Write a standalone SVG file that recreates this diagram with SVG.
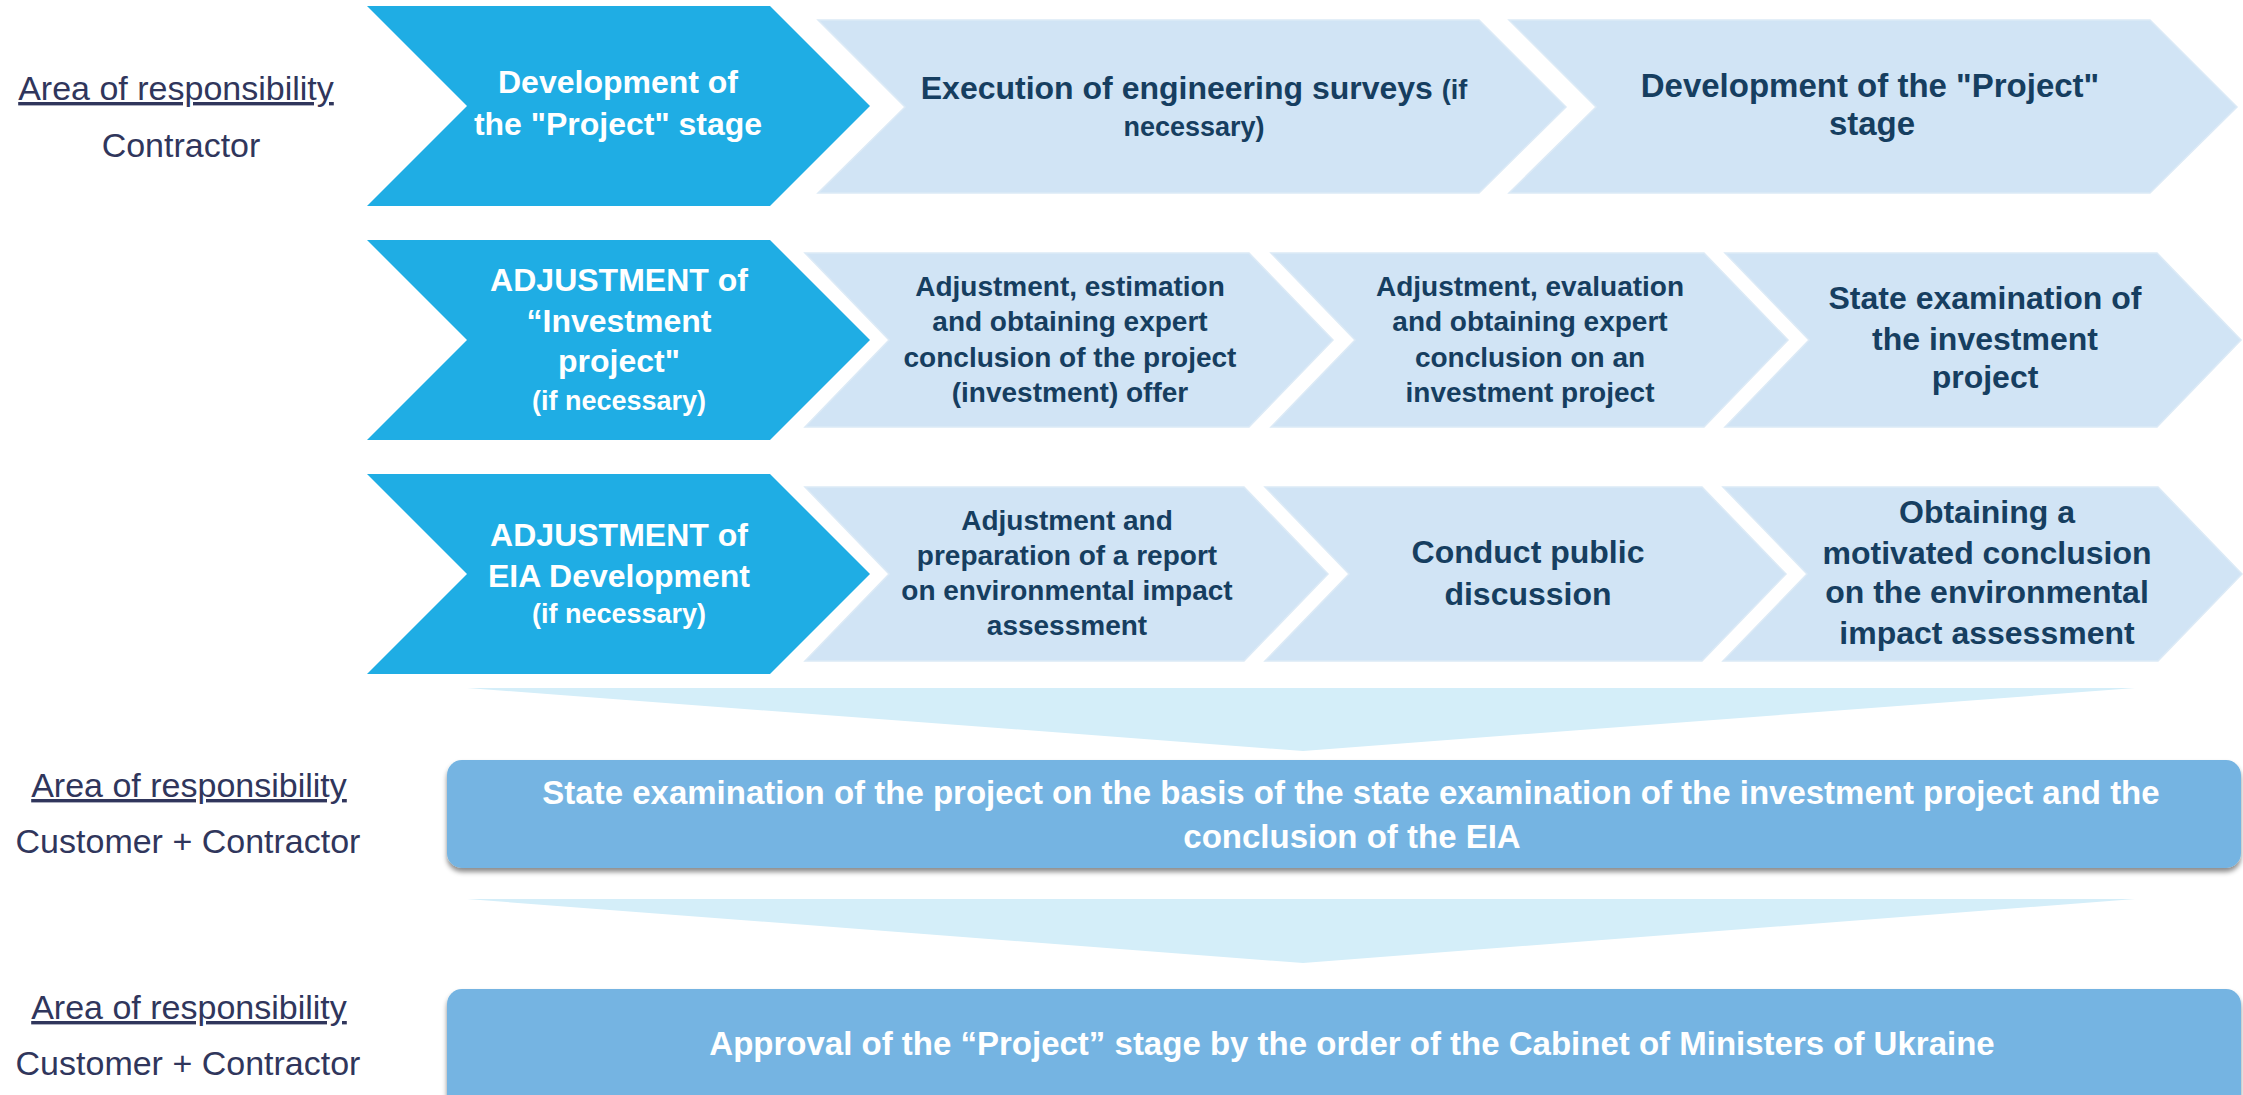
<svg xmlns="http://www.w3.org/2000/svg" width="2243" height="1095" viewBox="0 0 2243 1095">
<style>
.dark{fill:#1FADE4}
.light{fill:#D1E4F5;stroke:#DCEAF6;stroke-width:1.5}
.wedge{fill:#D4EEF9}
.box{fill:#74B4E2}
.lbl{font-family:"Liberation Sans",Arial,sans-serif;font-size:34px;fill:#30365C;text-anchor:middle}
.u{text-decoration:underline}
.wt{font-family:"Liberation Sans",Arial,sans-serif;font-weight:bold;font-size:32px;fill:#FFFFFF;text-anchor:middle}
.bt{font-size:33px}
.nt{font-family:"Liberation Sans",Arial,sans-serif;font-weight:bold;font-size:32px;fill:#163E60;text-anchor:middle}
.nt28{font-size:28px}
.sm{font-size:27px}
</style>
<defs>
<filter id="sh" x="-5%" y="-20%" width="110%" height="150%">
<feDropShadow dx="0" dy="4" stdDeviation="2.5" flood-color="#000" flood-opacity="0.45"/>
</filter>
</defs>
<rect width="2243" height="1095" fill="#FFFFFF"/>

<g id="labels">
<text class="lbl u" x="176" y="100">Area of responsibility</text>
<text class="lbl" x="181" y="157">Contractor</text>
<text class="lbl u" x="189" y="797">Area of responsibility</text>
<text class="lbl" x="188" y="853">Customer + Contractor</text>
<text class="lbl u" x="189" y="1019">Area of responsibility</text>
<text class="lbl" x="188" y="1075">Customer + Contractor</text>
</g>

<g id="connectors">
<polygon class="wedge" points="467,688 2135,688 1303,751"/>
<polygon class="wedge" points="467,899 2135,899 1303,963"/>
</g>

<g id="n-r1-0">
<polygon class="dark" points="367,6 770,6 870,106 770,206 367,206 467,106"/>
<text class="wt" x="618" y="93">Development of</text>
<text class="wt" x="618" y="135">the "Project" stage</text>
</g>
<g id="n-r1-1">
<polygon class="light" points="818,20 1479,20 1566,107 1479,193 818,193 905,107"/>
<text class="nt" x="1194" y="99">Execution of engineering surveys <tspan class="sm">(if</tspan></text>
<text class="nt sm" x="1194" y="136">necessary)</text>
</g>
<g id="n-r1-2">
<polygon class="light" points="1509,20 2150,20 2237,107 2150,193 1509,193 1596,107"/>
<text class="nt" x="1870" y="97" style="font-size:33px">Development of the "Project"</text>
<text class="nt" x="1872" y="135" style="font-size:33px">stage</text>
</g>

<g id="n-r2-0">
<polygon class="dark" points="367,240 770,240 870,340 770,440 367,440 467,340"/>
<text class="wt" x="619" y="291">ADJUSTMENT of</text>
<text class="wt" x="619" y="332">“Investment</text>
<text class="wt" x="619" y="372">project"</text>
<text class="wt sm" x="619" y="410">(if necessary)</text>
</g>
<g id="n-r2-1">
<polygon class="light" points="805,253 1249,253 1333,340 1249,427 805,427 889,340"/>
<text class="nt nt28" x="1070" y="296">Adjustment, estimation</text>
<text class="nt nt28" x="1070" y="331">and obtaining expert</text>
<text class="nt nt28" x="1070" y="367">conclusion of the project</text>
<text class="nt nt28" x="1070" y="402">(investment) offer</text>
</g>
<g id="n-r2-2">
<polygon class="light" points="1271,253 1704,253 1788,340 1704,427 1271,427 1355,340"/>
<text class="nt nt28" x="1530" y="296">Adjustment, evaluation</text>
<text class="nt nt28" x="1530" y="331">and obtaining expert</text>
<text class="nt nt28" x="1530" y="367">conclusion on an</text>
<text class="nt nt28" x="1530" y="402">investment project</text>
</g>
<g id="n-r2-3">
<polygon class="light" points="1725,253 2157,253 2241,340 2157,427 1725,427 1809,340"/>
<text class="nt" x="1985" y="309">State examination of</text>
<text class="nt" x="1985" y="350">the investment</text>
<text class="nt" x="1985" y="388">project</text>
</g>

<g id="n-r3-0">
<polygon class="dark" points="367,474 770,474 870,574 770,674 367,674 467,574"/>
<text class="wt" x="619" y="546">ADJUSTMENT of</text>
<text class="wt" x="619" y="587">EIA Development</text>
<text class="wt sm" x="619" y="623">(if necessary)</text>
</g>
<g id="n-r3-1">
<polygon class="light" points="805,487 1244,487 1328,574 1244,661 805,661 889,574"/>
<text class="nt nt28" x="1067" y="530">Adjustment and</text>
<text class="nt nt28" x="1067" y="565">preparation of a report</text>
<text class="nt nt28" x="1067" y="600">on environmental impact</text>
<text class="nt nt28" x="1067" y="635">assessment</text>
</g>
<g id="n-r3-2">
<polygon class="light" points="1265,487 1702,487 1786,574 1702,661 1265,661 1349,574"/>
<text class="nt" x="1528" y="563">Conduct public</text>
<text class="nt" x="1528" y="605">discussion</text>
</g>
<g id="n-r3-3">
<polygon class="light" points="1723,487 2158,487 2242,574 2158,661 1723,661 1807,574"/>
<text class="nt" x="1987" y="523">Obtaining a</text>
<text class="nt" x="1987" y="564">motivated conclusion</text>
<text class="nt" x="1987" y="603">on the environmental</text>
<text class="nt" x="1987" y="644">impact assessment</text>
</g>

<g id="n-exam">
<rect class="box" x="447" y="760" width="1794" height="108" rx="15" filter="url(#sh)"/>
<text class="wt bt" x="1351" y="804">State examination of the project on the basis of the state examination of the investment project and the</text>
<text class="wt bt" x="1352" y="848">conclusion of the EIA</text>
</g>
<g id="n-approval">
<rect class="box" x="447" y="989" width="1794" height="130" rx="15" filter="url(#sh)"/>
<text class="wt bt" x="1352" y="1055">Approval of the “Project” stage by the order of the Cabinet of Ministers of Ukraine</text>
</g>
</svg>
